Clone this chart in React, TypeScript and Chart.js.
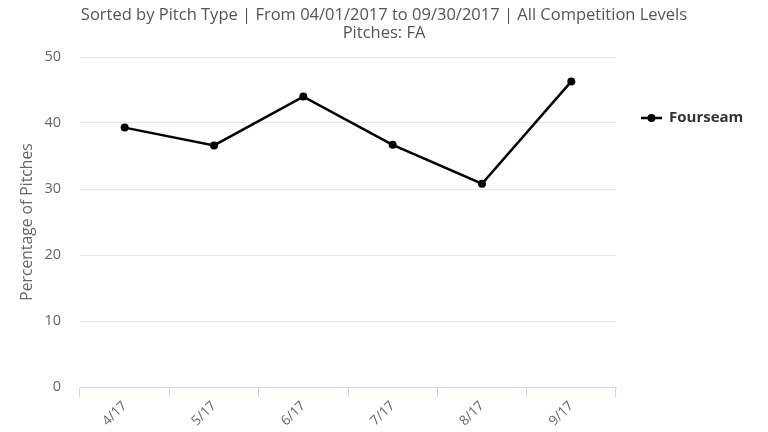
import React, { useEffect, useRef } from "react";
import { Chart, registerables } from "chart.js";

Chart.register(...registerables);

const categories = ["4/17", "5/17", "6/17", "7/17", "8/17", "9/17"];
const fourseam = [39.3, 36.6, 44.0, 36.7, 30.8, 46.3];
const yTicks = [0, 10, 20, 30, 40, 50];
const titleLines = [
  "Sorted by Pitch Type | From 04/01/2017 to 09/30/2017 | All Competition Levels",
  "Pitches: FA",
];
const yTitle = "Percentage of Pitches";
const seriesName = "Fourseam";

const FONT = "'Open Sans', 'Noto Sans', sans-serif";

export default function App() {
  const ref = useRef<HTMLCanvasElement>(null);
  useEffect(() => {
    document.body.style.margin = "0";
    const canvas = ref.current!;
    const deco = {
      id: "deco",
      afterDraw(chart: any) {
        const ctx = chart.ctx;
        const area = chart.chartArea;
        ctx.save();
        ctx.fillStyle = "#555555";
        ctx.font = `16.5px ${FONT}`;
        ctx.textAlign = "center";
        ctx.textBaseline = "middle";
        ctx.fillText(titleLines[0], 384, 15);
        ctx.fillText(titleLines[1], 384, 33);
        // y title
        ctx.save();
        ctx.translate(28, 222);
        ctx.rotate(-Math.PI / 2);
        ctx.fillStyle = "#666666";
        ctx.font = `15.7px ${FONT}`;
        ctx.fillText(yTitle, 0, 0);
        ctx.restore();
        // legend
        const ly = 118;
        ctx.strokeStyle = "#000";
        ctx.lineWidth = 2.5;
        ctx.beginPath();
        ctx.moveTo(641, ly);
        ctx.lineTo(662, ly);
        ctx.stroke();
        ctx.fillStyle = "#000";
        ctx.beginPath();
        ctx.arc(651.5, ly, 4, 0, Math.PI * 2);
        ctx.fill();
        ctx.fillStyle = "#333333";
        ctx.font = `bold 15px ${FONT}`;
        ctx.textAlign = "left";
        ctx.fillText(seriesName, 669, ly);
        ctx.restore();
      },
    };
    const chart = new Chart(canvas, {
      type: "line",
      data: {
        labels: categories,
        datasets: [
          {
            label: seriesName,
            data: fourseam,
            borderColor: "#000000",
            backgroundColor: "#000000",
            borderWidth: 2.5,
            pointRadius: 4,
            pointBackgroundColor: "#000000",
            pointBorderWidth: 0,
            tension: 0,
          },
        ],
      },
      options: {
        responsive: false,
        animation: false,
        layout: { padding: { top: 57, right: 152, left: 0, bottom: 0 } },
        plugins: {
          legend: { display: false },
          title: { display: false },
          tooltip: { enabled: false },
        },
        scales: {
          x: {
            offset: true,
            afterFit: (s: any) => {
              s.height = 45;
            },
            grid: {
              offset: true,
              drawOnChartArea: false,
              color: "#ccd6eb",
              tickLength: 10,
              tickColor: "#ccd6eb",
            },
            border: { color: "#ccd6eb", width: 1 },
            ticks: {
              color: "#666666",
              font: { family: FONT, size: 13.5 },
              minRotation: 45,
              maxRotation: 45,
              padding: 1,
            },
          },
          y: {
            min: 0,
            max: 50,
            afterFit: (s: any) => {
              s.width = 80;
            },
            afterBuildTicks: (s: any) => {
              s.ticks = yTicks.map((v) => ({ value: v }));
            },
            grid: { color: "#e6e6e6", drawTicks: false },
            border: { display: false },
            ticks: {
              color: "#666666",
              font: { family: FONT, size: 14.5 },
              padding: 19,
            },
          },
        },
      },
      plugins: [deco],
    });
    return () => chart.destroy();
  }, []);
  return (
    <div style={{ width: 768, height: 432 }}>
      <canvas ref={ref} width={768} height={432} />
    </div>
  );
}
